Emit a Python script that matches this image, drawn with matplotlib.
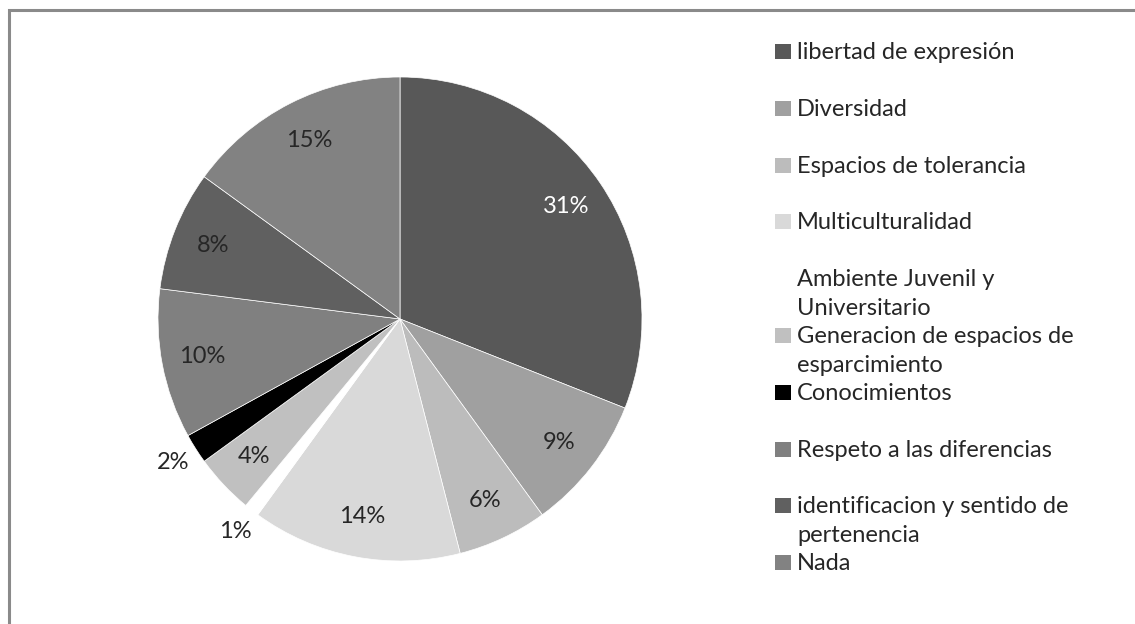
import matplotlib

matplotlib.use("Agg")
import matplotlib.pyplot as plt
from matplotlib.patches import Rectangle
import numpy as np

plt.rcParams["font.family"] = ["Lato", "DejaVu Sans"]

# Datos de la encuesta (porcentaje de respuestas)
categorias = [
    "libertad de expresión",
    "Diversidad",
    "Espacios de tolerancia",
    "Multiculturalidad",
    "Ambiente Juvenil y\nUniversitario",
    "Generacion de espacios de\nesparcimiento",
    "Conocimientos",
    "Respeto a las diferencias",
    "identificacion y sentido de\npertenencia",
    "Nada",
]
porcentajes = [31, 9, 6, 14, 1, 4, 2, 10, 8, 15]
colores = [
    "#585858", "#a0a0a0", "#bcbcbc", "#d9d9d9", "#ffffff",
    "#c0c0c0", "#000000", "#808080", "#606060", "#828282",
]
# etiquetas que van fuera de la torta
etiquetas_fuera = {"Ambiente Juvenil y\nUniversitario", "Conocimientos"}

W, H = 1135, 624
fig = plt.figure(figsize=(W / 100, H / 100), dpi=100)


def px(x, y):
    """coordenadas en pixeles (origen arriba a la izquierda) -> fraccion de figura"""
    return x / W, 1 - y / H


# marco gris del area del grafico (derecha y abajo quedan fuera)
x0, y0 = px(8.5, 700)
fig.patches.append(
    Rectangle((x0, y0), (W + 50) / W, (700 - 9.5) / H,
              transform=fig.transFigure, fill=False, edgecolor="#8a8a8a",
              linewidth=2.2)
)

# torta
cx, cy, r = 400, 319, 242
ax = fig.add_axes([(cx - r) / W, 1 - (cy + r) / H, 2 * r / W, 2 * r / H])
wedges, _ = ax.pie(
    porcentajes,
    colors=colores,
    startangle=90,
    counterclock=False,
    wedgeprops=dict(edgecolor="white", linewidth=0.5),
)
ax.set_xlim(-1, 1)
ax.set_ylim(-1, 1)
ax.set_aspect("equal")
ax.axis("off")

for w, cat, val in zip(wedges, categorias, porcentajes):
    ang = np.deg2rad((w.theta1 + w.theta2) / 2)
    dist = 1.11 if cat in etiquetas_fuera else 0.83
    color = "white" if cat == "libertad de expresión" else "#262626"
    ax.text(dist * np.cos(ang), dist * np.sin(ang), f"{val}%",
            ha="center", va="center", fontsize=17, color=color)

# leyenda: una fila cada 56.8 px, las lineas extra se desbordan hacia abajo
ley_y, paso, interlinea = 52, 56.8, 28.5
for i, (cat, col) in enumerate(zip(categorias, colores)):
    y = ley_y + i * paso
    fx, fy = px(775, y + 7)
    fig.patches.append(
        Rectangle((fx, fy), 16 / W, 15 / H, transform=fig.transFigure,
                  facecolor=col, edgecolor="none")
    )
    for k, linea in enumerate(cat.split("\n")):
        tx, ty = px(797, y + 7 + k * interlinea)
        fig.text(tx, ty, linea, ha="left", va="baseline", fontsize=17,
                 color="#262626")

fig.savefig("out.png", dpi=100, facecolor="white")
